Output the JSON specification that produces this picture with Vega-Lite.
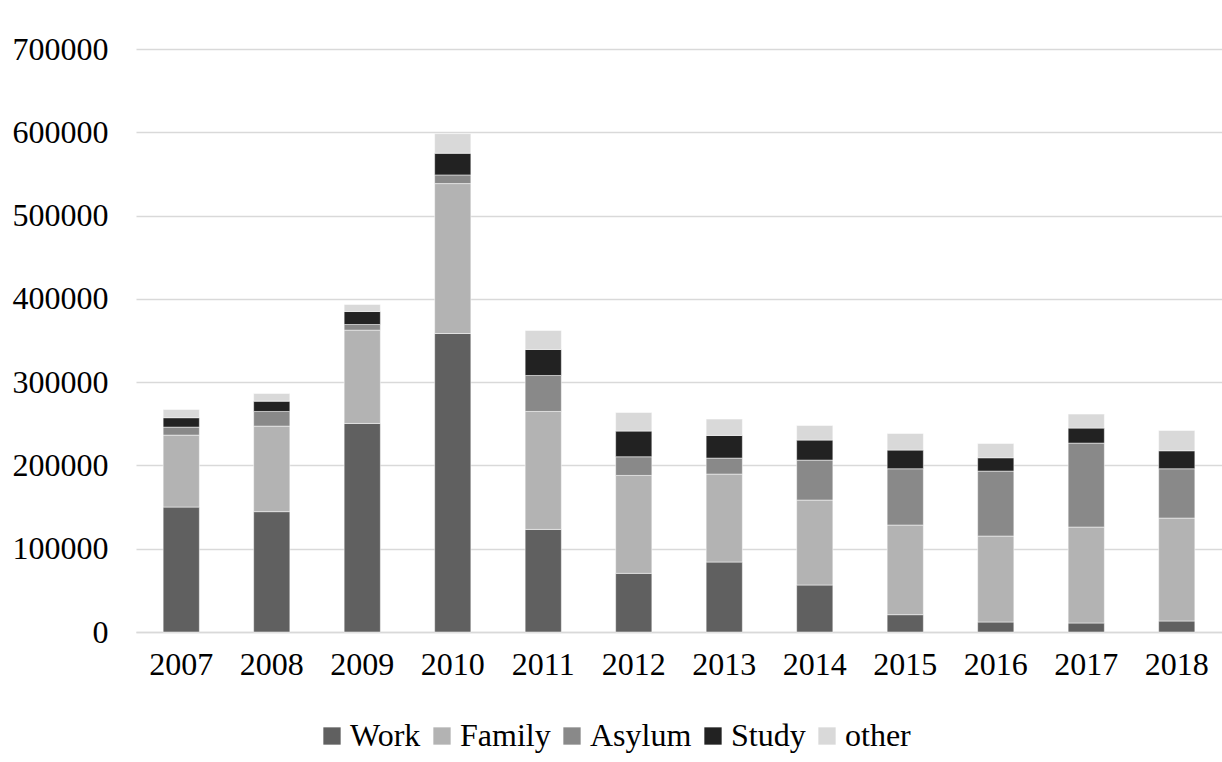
{
  "$schema": "https://vega.github.io/schema/vega-lite/v6.json",
  "autosize": {"type": "none"},
  "padding": {"left": 136, "top": 49, "right": 0, "bottom": 130},
  "width": 1086,
  "height": 583,
  "background": "white",
  "config": {
    "font": "Liberation Serif",
    "view": {"stroke": null},
    "axis": {"labelFont": "Liberation Serif", "labelColor": "#000000", "labelFontSize": 32, "titleFont": "Liberation Serif"},
    "legend": {"labelFont": "Liberation Serif", "labelColor": "#000000", "labelFontSize": 32}
  },
  "data": {"values": [
    {"year": "2007", "type": "Work", "value": 150000},
    {"year": "2007", "type": "Family", "value": 86400},
    {"year": "2007", "type": "Asylum", "value": 9600},
    {"year": "2007", "type": "Study", "value": 11300},
    {"year": "2007", "type": "other", "value": 9900},
    {"year": "2008", "type": "Work", "value": 144500},
    {"year": "2008", "type": "Family", "value": 102700},
    {"year": "2008", "type": "Asylum", "value": 17600},
    {"year": "2008", "type": "Study", "value": 12400},
    {"year": "2008", "type": "other", "value": 9200},
    {"year": "2009", "type": "Work", "value": 250400},
    {"year": "2009", "type": "Family", "value": 112000},
    {"year": "2009", "type": "Asylum", "value": 6800},
    {"year": "2009", "type": "Study", "value": 15600},
    {"year": "2009", "type": "other", "value": 8400},
    {"year": "2010", "type": "Work", "value": 358400},
    {"year": "2010", "type": "Family", "value": 180000},
    {"year": "2010", "type": "Asylum", "value": 10400},
    {"year": "2010", "type": "Study", "value": 26000},
    {"year": "2010", "type": "other", "value": 23600},
    {"year": "2011", "type": "Work", "value": 123200},
    {"year": "2011", "type": "Family", "value": 141600},
    {"year": "2011", "type": "Asylum", "value": 43200},
    {"year": "2011", "type": "Study", "value": 31200},
    {"year": "2011", "type": "other", "value": 22800},
    {"year": "2012", "type": "Work", "value": 70400},
    {"year": "2012", "type": "Family", "value": 117600},
    {"year": "2012", "type": "Asylum", "value": 22400},
    {"year": "2012", "type": "Study", "value": 30800},
    {"year": "2012", "type": "other", "value": 22400},
    {"year": "2013", "type": "Work", "value": 84000},
    {"year": "2013", "type": "Family", "value": 105600},
    {"year": "2013", "type": "Asylum", "value": 19200},
    {"year": "2013", "type": "Study", "value": 27200},
    {"year": "2013", "type": "other", "value": 19600},
    {"year": "2014", "type": "Work", "value": 56400},
    {"year": "2014", "type": "Family", "value": 102000},
    {"year": "2014", "type": "Asylum", "value": 48000},
    {"year": "2014", "type": "Study", "value": 24000},
    {"year": "2014", "type": "other", "value": 17600},
    {"year": "2015", "type": "Work", "value": 20800},
    {"year": "2015", "type": "Family", "value": 107600},
    {"year": "2015", "type": "Asylum", "value": 67600},
    {"year": "2015", "type": "Study", "value": 22400},
    {"year": "2015", "type": "other", "value": 20000},
    {"year": "2016", "type": "Work", "value": 12000},
    {"year": "2016", "type": "Family", "value": 103200},
    {"year": "2016", "type": "Asylum", "value": 78000},
    {"year": "2016", "type": "Study", "value": 16000},
    {"year": "2016", "type": "other", "value": 17200},
    {"year": "2017", "type": "Work", "value": 10800},
    {"year": "2017", "type": "Family", "value": 115200},
    {"year": "2017", "type": "Asylum", "value": 100800},
    {"year": "2017", "type": "Study", "value": 18000},
    {"year": "2017", "type": "other", "value": 16800},
    {"year": "2018", "type": "Work", "value": 13200},
    {"year": "2018", "type": "Family", "value": 123600},
    {"year": "2018", "type": "Asylum", "value": 59200},
    {"year": "2018", "type": "Study", "value": 21600},
    {"year": "2018", "type": "other", "value": 24400}
  ]},
  "transform": [
    {"calculate": "indexof(['Work','Family','Asylum','Study','other'], datum.type)", "as": "stackRank"}
  ],
  "mark": {"type": "bar", "stroke": "white", "strokeWidth": 0.5},
  "encoding": {
    "x": {
      "field": "year", "type": "nominal",
      "scale": {"paddingInner": 0.6, "paddingOuter": 0.3},
      "axis": {"title": null, "labelAngle": 0, "ticks": false, "domain": true, "domainColor": "#d9d9d9", "domainWidth": 1.5, "labelPadding": 17}
    },
    "y": {
      "field": "value", "type": "quantitative", "stack": "zero",
      "scale": {"domain": [0, 700000], "nice": false},
      "axis": {"title": null, "values": [0, 100000, 200000, 300000, 400000, 500000, 600000, 700000], "format": "d", "ticks": false, "domain": false, "gridColor": "#d9d9d9", "gridWidth": 1.5, "labelPadding": 28}
    },
    "color": {
      "field": "type", "type": "nominal",
      "sort": ["Work", "Family", "Asylum", "Study", "other"],
      "scale": {"domain": ["Work", "Family", "Asylum", "Study", "other"], "range": ["#606060", "#b3b3b3", "#898989", "#222222", "#d9d9d9"]},
      "legend": {"title": null, "orient": "none", "legendX": 180, "legendY": 671, "direction": "horizontal", "symbolType": "square", "symbolSize": 300, "symbolStrokeWidth": 0, "labelOffset": 2, "columnPadding": 5}
    },
    "order": {"field": "stackRank", "type": "quantitative", "sort": "ascending"}
  }
}
